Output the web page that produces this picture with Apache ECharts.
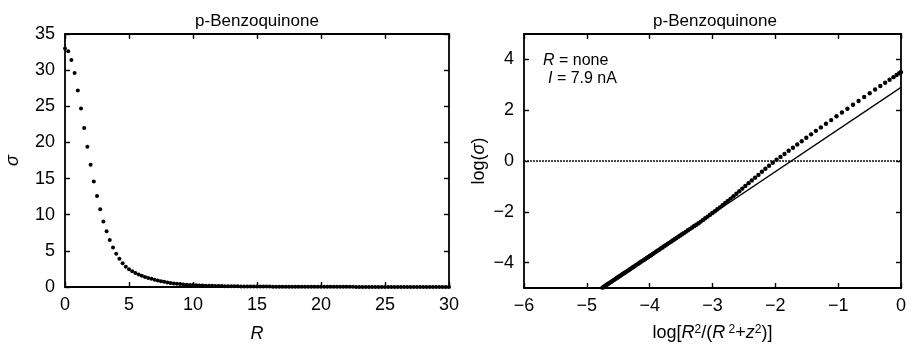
<!DOCTYPE html>
<html>
<head>
  <meta charset="utf-8">
  <title>p-Benzoquinone</title>
  <style>html,body{margin:0;padding:0;background:#fff;}</style>
</head>
<body>
  <div id="main" style="width:909px;height:348px;"></div>
<script src="https://cdn.jsdelivr.net/npm/echarts@6/dist/echarts.min.js"></script>
<script>
// left panel: sigma vs R
let radius = [0, 0.25, 0.5, 0.75, 1, 1.25, 1.5, 1.75, 2, 2.25, 2.5, 2.75, 3, 3.25, 3.5, 3.75, 4, 4.25, 4.5, 4.75, 5,
  5.25, 5.5, 5.75, 6, 6.25, 6.5, 6.75, 7,
  7.25, 7.5, 7.75, 8, 8.25, 8.5, 8.75, 9, 9.25, 9.5, 9.75, 10, 10.25, 10.5, 10.75, 11, 11.25, 11.5, 11.75, 12,
  12.25, 12.5, 12.75, 13, 13.25, 13.5, 13.75, 14,
  14.25, 14.5, 14.75, 15, 15.25, 15.5, 15.75, 16, 16.25, 16.5, 16.75, 17, 17.25, 17.5, 17.75, 18, 18.25, 18.5, 18.75, 19,
  19.25, 19.5, 19.75, 20, 20.25, 20.5, 20.75, 21, 21.25, 21.5, 21.75, 22, 22.25, 22.5, 22.75, 23, 23.25, 23.5, 23.75, 24,
  24.25, 24.5, 24.75, 25, 25.25, 25.5, 25.75, 26, 26.25, 26.5, 26.75, 27, 27.25, 27.5, 27.75, 28, 28.25, 28.5, 28.75, 29,
  29.25, 29.5, 29.75, 30];
let sigma = [33.0, 32.6, 31.4, 29.6, 27.2, 24.7, 22.0, 19.4, 16.9, 14.6, 12.6, 10.75, 9.06, 7.7, 6.5, 5.45, 4.6, 3.9, 3.3, 2.8, 2.45,
  2.17, 1.94, 1.74, 1.56, 1.40, 1.26, 1.13, 1.01,
  0.907, 0.806, 0.710, 0.628, 0.559, 0.499, 0.446, 0.399, 0.360, 0.324, 0.292, 0.265, 0.240, 0.220, 0.201, 0.185,
  0.171, 0.158, 0.146, 0.136, 0.127, 0.119, 0.111, 0.104, 0.097, 0.092, 0.086, 0.082,
  0.077, 0.073, 0.069, 0.065, 0.062, 0.059, 0.056, 0.053, 0.051, 0.048, 0.046, 0.044, 0.042, 0.040, 0.038, 0.036,
  0.035, 0.033, 0.032, 0.031,
  0.029, 0.028, 0.027, 0.026, 0.025, 0.024, 0.023, 0.022, 0.021, 0.020, 0.020, 0.019, 0.018, 0.018, 0.017, 0.016,
  0.016, 0.015, 0.015, 0.014,
  0.014, 0.013, 0.013, 0.012, 0.012, 0.012, 0.011, 0.011, 0.011, 0.010, 0.010, 0.010, 0.009, 0.009, 0.009, 0.009,
  0.008, 0.008, 0.008, 0.008, 0.007, 0.007, 0.007, 0.007];

// right panel: log(sigma) vs log[R2/(R2+z2)]
let logX = [0, -0.008, -0.031, -0.069, -0.120, -0.182, -0.252, -0.329, -0.412, -0.498, -0.586, -0.675, -0.764, -0.853,
  -0.940, -1.027, -1.111, -1.194, -1.275, -1.354, -1.431,
  -1.507, -1.580, -1.651, -1.720, -1.788, -1.854, -1.918, -1.980,
  -2.041, -2.100, -2.158, -2.214, -2.269, -2.323, -2.375, -2.426, -2.477, -2.526, -2.573, -2.620, -2.666, -2.711,
  -2.755, -2.798, -2.840, -2.882, -2.923, -2.962, -3.002, -3.040, -3.078, -3.115, -3.151, -3.187, -3.222, -3.257,
  -3.290, -3.323, -3.357, -3.390, -3.421, -3.452, -3.484, -3.515, -3.544, -3.574, -3.603, -3.633, -3.661, -3.689,
  -3.716, -3.744, -3.771, -3.797, -3.823, -3.850,
  -3.875, -3.900, -3.925, -3.950, -3.974, -3.998, -4.022, -4.046, -4.069, -4.092, -4.115, -4.138, -4.160, -4.182,
  -4.203, -4.225, -4.246, -4.267, -4.288, -4.309,
  -4.329, -4.349, -4.370, -4.390, -4.409, -4.429, -4.448, -4.467, -4.486, -4.505, -4.523, -4.542, -4.560, -4.578,
  -4.596, -4.614, -4.631, -4.649, -4.666, -4.683, -4.700, -4.717, -4.734, -4.751];
let logSigma = [3.50, 3.487, 3.448, 3.385, 3.301, 3.199, 3.082, 2.953, 2.816, 2.669, 2.518, 2.365, 2.212, 2.060,
  1.909, 1.761, 1.610, 1.468, 1.323, 1.187, 1.049,
  0.914, 0.777, 0.649, 0.524, 0.402, 0.278, 0.162, 0.048,
  -0.068, -0.186, -0.307, -0.425, -0.547, -0.656, -0.763, -0.873, -0.981, -1.087, -1.192, -1.290, -1.386, -1.480,
  -1.568, -1.655, -1.740, -1.824, -1.901, -1.977, -2.048, -2.116, -2.189, -2.256, -2.321, -2.385, -2.449, -2.507,
  -2.562, -2.617, -2.672, -2.727, -2.779, -2.831, -2.883, -2.935, -2.984, -3.033, -3.081, -3.130, -3.177, -3.223,
  -3.269, -3.315, -3.359, -3.403, -3.447, -3.491,
  -3.532, -3.574, -3.616, -3.658, -3.698, -3.737, -3.777, -3.817, -3.855, -3.893, -3.931, -3.969, -4.005, -4.041,
  -4.078, -4.114, -4.149, -4.184, -4.218, -4.253,
  -4.287, -4.320, -4.354, -4.387, -4.419, -4.451, -4.483, -4.516, -4.547, -4.578, -4.609, -4.639, -4.669, -4.699,
  -4.729, -4.759, -4.788, -4.817, -4.845, -4.874, -4.902, -4.930, -4.958, -4.986];

// fitted straight line and zero reference
let fitX = [-4.76, 0];
let fitY = [-5, 2.9];
let zeroX = [-6, 0];
let zeroY = [0, 0];

let rightYTicks = [-4, -2, 0, 2, 4];

const FONT = '"Liberation Sans", Arial, Helvetica, sans-serif';
const INK = '#000';

let myChart = echarts.init(document.querySelector('#main'));

function zip(a, b) {
  return a.map((v, i) => [v, b[i]]);
}
function minus(v) {
  return String(v).replace('-', '\u2212');
}

let frameLine = { show: true, onZero: false, lineStyle: { color: INK, width: 1.8 } };
let tick = { show: true, inside: true, length: 5, lineStyle: { color: INK, width: 1.4 } };
let label = { color: INK, fontSize: 18, fontFamily: FONT };
let italic = { fontStyle: 'italic', fontSize: 18, fontFamily: FONT, color: INK };
let plain = { fontSize: 18, fontFamily: FONT, color: INK };
let sup = { fontSize: 12, fontFamily: FONT, color: INK, verticalAlign: 'top', lineHeight: 10 };
let noteItalic = { fontStyle: 'italic', fontSize: 16, fontFamily: FONT, color: INK };

let option = {
  animation: false,
  backgroundColor: '#fff',
  grid: [
    { left: 65, top: 34, width: 384, height: 254 },
    { left: 524, top: 34, width: 383, height: 254 }
  ],
  graphic: [
    { type: 'text', x: 257, y: 21, style: { text: 'p-Benzoquinone', font: '17px ' + FONT, fill: INK, align: 'center', verticalAlign: 'middle' } },
    { type: 'text', x: 715, y: 21, style: { text: 'p-Benzoquinone', font: '17px ' + FONT, fill: INK, align: 'center', verticalAlign: 'middle' } },
    { type: 'text', x: 543, y: 61, style: { text: '{i|R} = none', rich: { i: noteItalic }, font: '16px ' + FONT, fill: INK, verticalAlign: 'middle' } },
    { type: 'text', x: 548, y: 79, style: { text: '{i|I} = 7.9 nA', rich: { i: noteItalic }, font: '16px ' + FONT, fill: INK, verticalAlign: 'middle' } }
  ],
  xAxis: [
    {
      gridIndex: 0, type: 'value', min: 0, max: 30, interval: 5, position: 'bottom',
      axisLine: frameLine, axisTick: tick, splitLine: { show: false },
      axisLabel: Object.assign({ margin: 9 }, label),
      name: 'R', nameLocation: 'middle', nameGap: 38,
      nameTextStyle: italic
    },
    {
      gridIndex: 0, type: 'value', min: 0, max: 30, interval: 5, position: 'top',
      axisLine: frameLine, axisTick: tick, axisLabel: { show: false }, splitLine: { show: false }
    },
    {
      gridIndex: 1, type: 'value', min: -6, max: 0, interval: 1, position: 'bottom',
      axisLine: frameLine, axisTick: tick, splitLine: { show: false },
      axisLabel: Object.assign({ margin: 9, formatter: minus }, label),
      name: '{n|log[}{i|R}{s|2}{n|/(}{i|R}{s| 2}{n|+}{i|z}{s|2}{n|)]}', nameLocation: 'middle', nameGap: 36,
      nameTextStyle: { rich: { n: plain, i: italic, s: sup } }
    },
    {
      gridIndex: 1, type: 'value', min: -6, max: 0, interval: 1, position: 'top',
      axisLine: frameLine, axisTick: tick, axisLabel: { show: false }, splitLine: { show: false }
    }
  ],
  yAxis: [
    {
      gridIndex: 0, type: 'value', min: 0, max: 35, interval: 5, position: 'left',
      axisLine: frameLine, axisTick: tick, splitLine: { show: false },
      axisLabel: Object.assign({ margin: 10 }, label),
      name: '\u03c3', nameLocation: 'middle', nameGap: 43, nameRotate: 90,
      nameTextStyle: italic
    },
    {
      gridIndex: 0, type: 'value', min: 0, max: 35, interval: 5, position: 'right',
      axisLine: frameLine, axisTick: tick, axisLabel: { show: false }, splitLine: { show: false }
    },
    {
      gridIndex: 1, type: 'value', min: -5, max: 5, position: 'left',
      axisLine: frameLine,
      axisTick: Object.assign({ customValues: rightYTicks }, tick), splitLine: { show: false },
      axisLabel: Object.assign({ margin: 10, formatter: minus, customValues: rightYTicks }, label),
      name: '{n|log(}{i|\u03c3}{n|)}', nameLocation: 'middle', nameGap: 36, nameRotate: 90,
      nameTextStyle: { rich: { n: plain, i: italic } }
    },
    {
      gridIndex: 1, type: 'value', min: -5, max: 5, position: 'right',
      axisLine: frameLine,
      axisTick: Object.assign({ customValues: rightYTicks }, tick),
      axisLabel: { show: false }, splitLine: { show: false }
    }
  ],
  series: [
    {
      name: 'sigma', type: 'scatter', xAxisIndex: 0, yAxisIndex: 0,
      symbol: 'circle', symbolSize: 4,
      itemStyle: { color: '#000', opacity: 1 },
      data: zip(radius, sigma)
    },
    {
      name: 'zero', type: 'line', xAxisIndex: 2, yAxisIndex: 2,
      symbol: 'none', silent: true,
      lineStyle: { color: '#111', width: 1.3, type: [2, 1] },
      data: zip(zeroX, zeroY)
    },
    {
      name: 'fit', type: 'line', xAxisIndex: 2, yAxisIndex: 2,
      symbol: 'none', silent: true,
      lineStyle: { color: '#000', width: 1.3 },
      data: zip(fitX, fitY)
    },
    {
      name: 'logSigma', type: 'scatter', xAxisIndex: 2, yAxisIndex: 2,
      symbol: 'circle', symbolSize: 4.4,
      itemStyle: { color: '#000', opacity: 1 },
      data: zip(logX, logSigma)
    }
  ]
};
myChart.setOption(option);
</script>
</body>
</html>
